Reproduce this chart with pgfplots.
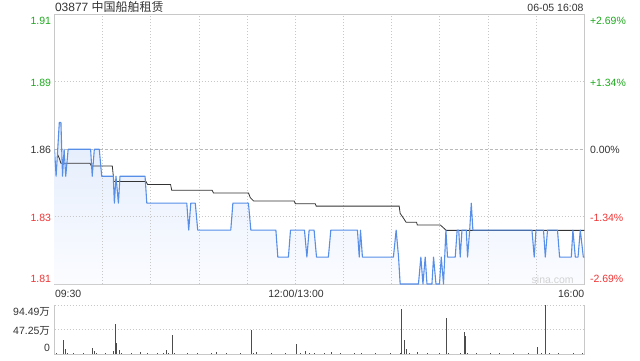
\documentclass[border=0pt]{standalone}
\usepackage{pgfplots}
\pgfplotsset{compat=1.18}
\usepackage{pgfplotstable}
\usepackage{fontspec}
\setmainfont{Liberation Sans}
\newfontfamily\cjk{Noto Sans CJK SC}
\definecolor{upgreen}{RGB}{30,168,30}
\definecolor{downred}{RGB}{238,52,52}
\definecolor{pline}{RGB}{86,142,232}
\definecolor{txt}{RGB}{51,51,51}
\definecolor{gridc}{RGB}{200,200,200}
\definecolor{borderc}{RGB}{200,200,200}
\definecolor{filltop}{RGB}{226,236,252}
\definecolor{fillbot}{RGB}{251,252,255}

\pgfplotstableread{
x y
0 1.86
1 1.85
3 1.87
4 1.87
5 1.85
6 1.86
7 1.85
8.5 1.86
22.5 1.86
23.5 1.85
24.8 1.86
27.9 1.86
29.4 1.85
36.6 1.85
37.3 1.84
38.3 1.85
39.8 1.84
40.8 1.85
56.4 1.85
57.5 1.84
82.4 1.84
83.6 1.83
84.9 1.84
87.7 1.84
89.2 1.83
109.8 1.83
111.1 1.84
120.8 1.84
122.3 1.83
137.9 1.83
139.1 1.82
145.7 1.82
147 1.83
155.7 1.83
157.2 1.82
158.6 1.83
161.7 1.83
163.2 1.82
170.6 1.82
172.1 1.83
188.7 1.83
189.8 1.82
190.6 1.83
191.8 1.82
211.1 1.82
212.8 1.83
214.3 1.82
215.3 1.81
226.7 1.81
228.2 1.82
229.5 1.81
230.9 1.82
232 1.81
235.1 1.81
236.1 1.82
237.6 1.81
239.8 1.81
240.9 1.82
242.3 1.81
243.8 1.83
244.8 1.82
249.6 1.82
250.8 1.83
251.8 1.83
252.7 1.82
253.8 1.83
256.5 1.83
257.3 1.82
258.6 1.83
259.6 1.84
260.6 1.83
297.4 1.83
298.8 1.82
299.9 1.83
304.6 1.83
305.7 1.82
307.1 1.83
313.3 1.83
314.6 1.82
321.9 1.82
322.9 1.83
324.4 1.82
326.1 1.82
327.5 1.83
329.4 1.82
330 1.82
}\bluedata

\pgfplotstableread{
x y
2 1.858
3 1.8566
4 1.8548
22.1 1.8548
23 1.8538
36 1.8538
37 1.848
57 1.848
58 1.8469
72.3 1.8469
73 1.8448
98.2 1.8448
99 1.8438
120.8 1.8438
122 1.842
124 1.8408
149.3 1.8408
150 1.8398
162.4 1.8398
163 1.8389
214.7 1.8389
215.3 1.8362
217.4 1.8344
219 1.8329
225.5 1.8329
226 1.8319
240.3 1.8319
242 1.831
244 1.8299
330 1.8299
}\avgdata

\pgfplotstableread{
x v
1 2
3 1.5
5.5 28.4
6.7 10.7
8 2
10 1.5
12 2
14 1
16 1.5
18 2
20 1
22 1.5
23.6 12.6
24.6 6
26 2
28 1.5
30 1
32 2
34 1.5
36.9 6
37.9 58.6
38.5 22
40.4 9.5
42 2
44 1.5
46 1
48 2
50 1.5
53.3 5
55 1.5
58 2
60 1
62 1.5
64 2
66 1
68 2
69.9 8.9
71 2
73.4 37.8
75 2
78 1.5
80 1
83 2
86 1.5
89 2
92 1
95 1.5
98 2
101 5
104 1.5
107 2
110 1
113 1.5
116 2
119 1.5
122.6 46.6
124 2
126 4
129 1.5
132 1
135 2
138 1.5
141 1
144 2
147 1.5
150.5 20.8
153 2
156.5 7.6
159 2
162 3
165 1.5
168 2
170 1.5
172.7 4
175 1.5
178 2
181 1
184 1.5
187 2
191 3
194 1.5
197 1
200 2
203 1.5
206 1
209 2
212 1.5
215.3 3
216.4 87
218 28.4
219.3 11.3
221 2
223 1.5
226 4
229 1.5
232 2
235 1
238 1.5
239.8 3
242 1.5
244.2 70.6
245.5 3
248 1.5
251 1
253 2
255.2 43.5
255.8 34.6
257 3
260 1.5
263 2
266 1
269 1.5
271.4 3
274 1.5
277 2
280 1
283 1.5
286 2
289 1
292 1.5
295 2
298 1.5
300.9 13.9
303 2
306.1 94.49
308 2
311 1.5
314 2
317 1
320 1.5
323 2
326 1.5
329 3
330 2
}\voldata

\begin{document}
\begin{tikzpicture}
\useasboundingbox (0pt,0pt) rectangle (640pt,-360pt);
\tikzset{gridl/.style={draw=gridc, line width=0.8pt, dash pattern=on 1pt off 2pt}}

% ---------- price panel ----------
\begin{axis}[
  at={(54.5pt,-284pt)}, anchor=south west,
  scale only axis, width=529.8pt, height=269.5pt,
  xmin=0, xmax=330, ymin=1.81, ymax=1.91,
  axis line style={draw=borderc, line width=0.8pt},
  xtick=\empty, ytick=\empty,
  clip=true,
]
\addplot[draw=none, top color=filltop, bottom color=fillbot]
  table[x=x,y=y] {\bluedata} -- (axis cs:330,1.81) -- (axis cs:0,1.81) -- cycle;
\pgfplotsinvokeforeach{30,60,90,120,150,180,210,240,270,300}{
  \draw[gridl] (axis cs:#1,1.81) -- (axis cs:#1,1.91);
}
\draw[gridl] (axis cs:0,1.835) -- (axis cs:330,1.835);
\draw[gridl] (axis cs:0,1.885) -- (axis cs:330,1.885);
\draw[draw=gray!55, line width=0.8pt, dash pattern=on 3pt off 2pt] (axis cs:0,1.86) -- (axis cs:330,1.86);
\addplot[draw=txt, line width=0.8pt] table[x=x,y=y] {\avgdata};
\addplot[draw=pline, line width=1.1pt, line join=round] table[x=x,y=y] {\bluedata};
\end{axis}

% ---------- volume panel ----------
\begin{axis}[
  at={(54.5pt,-354.5pt)}, anchor=south west,
  scale only axis, width=529.8pt, height=49.5pt,
  xmin=0, xmax=330, ymin=0, ymax=94.49,
  axis line style={draw=none},
  xtick=\empty, ytick=\empty,
  clip=false,
]
\draw[gridl] (axis cs:0,47.25) -- (axis cs:330,47.25);
\draw[gridl] (axis cs:0,94.49) -- (axis cs:330,94.49);
\addplot[ycomb, draw=black!70, line width=0.9pt] table[x=x,y=v] {\voldata};
\draw[draw=borderc, line width=0.8pt] (rel axis cs:0,1) -- (rel axis cs:0,0) -- (rel axis cs:1,0) -- (rel axis cs:1,1);
\end{axis}

% ---------- texts ----------
\begin{scope}[every node/.style={inner sep=0pt, outer sep=0pt, font=\fontsize{10.5}{12}\selectfont}]
\node[anchor=base west, text=txt, font=\fontsize{12}{14}\selectfont] at (55pt,-11pt) {03877 {\cjk 中国船舶租赁}};
\node[anchor=base east, text=txt] at (583.5pt,-11pt) {06-05 16:08};

\node[anchor=base east, text=upgreen] at (51pt,-24pt) {1.91};
\node[anchor=base east, text=upgreen] at (51pt,-86pt) {1.89};
\node[anchor=base east, text=txt] at (51pt,-153.3pt) {1.86};
\node[anchor=base east, text=downred] at (51pt,-221pt) {1.83};
\node[anchor=base east, text=downred] at (51pt,-282.3pt) {1.81};

\node[anchor=base west, text=upgreen] at (590pt,-24pt) {+2.69\%};
\node[anchor=base west, text=upgreen] at (590pt,-86pt) {+1.34\%};
\node[anchor=base west, text=txt] at (590pt,-153.3pt) {0.00\%};
\node[anchor=base west, text=downred] at (590pt,-221pt) {-1.34\%};
\node[anchor=base west, text=downred] at (590pt,-282.3pt) {-2.69\%};

\node[anchor=base west, text=txt] at (55pt,-297.3pt) {09:30};
\node[anchor=base, text=txt] at (296pt,-297.3pt) {12:00/13:00};
\node[anchor=base east, text=txt] at (584.3pt,-297.3pt) {16:00};

\node[anchor=base east, text=txt] at (50pt,-315pt) {94.49{\cjk 万}};
\node[anchor=base east, text=txt] at (50pt,-334pt) {47.25{\cjk 万}};
\node[anchor=base east, text=txt] at (50pt,-351.7pt) {0};

\node[text=gray!35] at (552.7pt,-279.3pt) {sina.com};
\end{scope}
\end{tikzpicture}
\end{document}
